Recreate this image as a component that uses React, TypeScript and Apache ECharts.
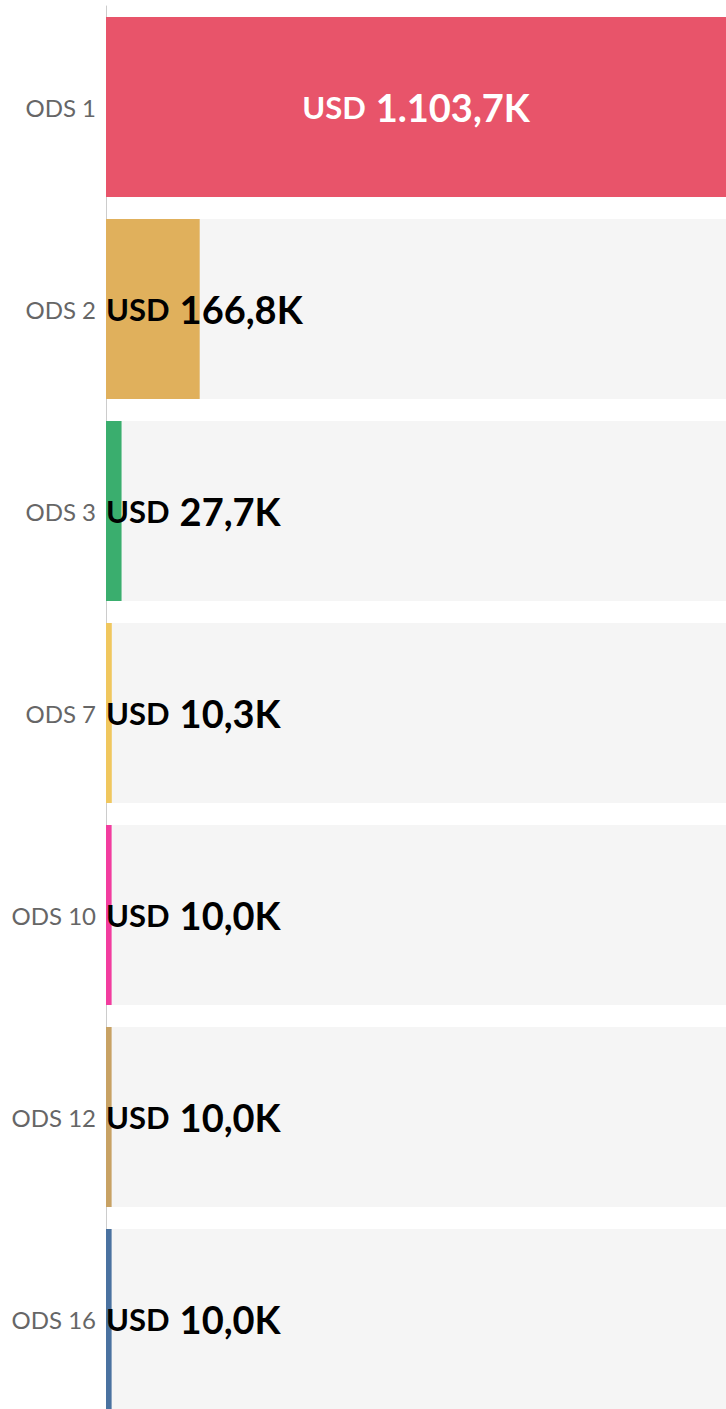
import React, { useEffect, useRef } from "react";
import * as echarts from "echarts";

const categories = ["ODS 1", "ODS 2", "ODS 3", "ODS 7", "ODS 10", "ODS 12", "ODS 16"];
const values = [1103.7, 166.8, 27.7, 10.3, 10.0, 10.0, 10.0];
const colors = ["#e8546a", "#e0b05c", "#3aae6e", "#f0c75e", "#f23d9f", "#c8a264", "#4a72a0"];

function fmt(v: number): string {
  const [i, d] = v.toFixed(1).split(".");
  const int = i.replace(/\B(?=(\d{3})+(?!\d))/g, ".");
  return `${int},${d}K`;
}

const FONT = "Lato";

export default function App() {
  const ref = useRef<HTMLDivElement>(null);
  useEffect(() => {
    if (!ref.current) return;
    const chart = echarts.init(ref.current, null, { renderer: "svg" });
    const maxV = Math.max(...values);
    chart.setOption({
      animation: false,
      grid: { left: 106, right: 0, top: 6, bottom: 0, containLabel: false },
      xAxis: {
        type: "value",
        min: 0,
        max: maxV,
        show: false,
      },
      yAxis: {
        type: "category",
        data: categories,
        inverse: true,
        axisTick: { show: false },
        axisLine: { show: true, lineStyle: { color: "#cccccc", width: 1 } },
        axisLabel: { color: "#666666", fontSize: 24, fontFamily: FONT, margin: 10 },
      },
      series: [
        {
          type: "bar",
          barWidth: 180,
          showBackground: true,
          backgroundStyle: { color: "#f5f5f5" },
          data: values.map((v, i) => {
            const big = v === maxV;
            const c = big ? "#ffffff" : "#000000";
            return {
              value: v,
              itemStyle: { color: colors[i] },
              label: {
                show: true,
                position: big ? "inside" : "insideLeft",
                distance: 0,
                formatter: `{a|USD}{b|${fmt(v)}}`,
                rich: {
                  a: { fontSize: 31, fontWeight: "bold", fontFamily: FONT, color: c, padding: [0, 10, 0, 0] },
                  b: { fontSize: 38, fontWeight: "bold", fontFamily: FONT, color: c },
                },
              },
            };
          }),
        },
      ],
    });
    return () => chart.dispose();
  }, []);
  return (
    <div style={{ position: "absolute", left: 0, top: 0, width: 726, height: 1409, overflow: "hidden", background: "#fff" }}>
      <div ref={ref} style={{ width: 726, height: 1420 }} />
    </div>
  );
}
